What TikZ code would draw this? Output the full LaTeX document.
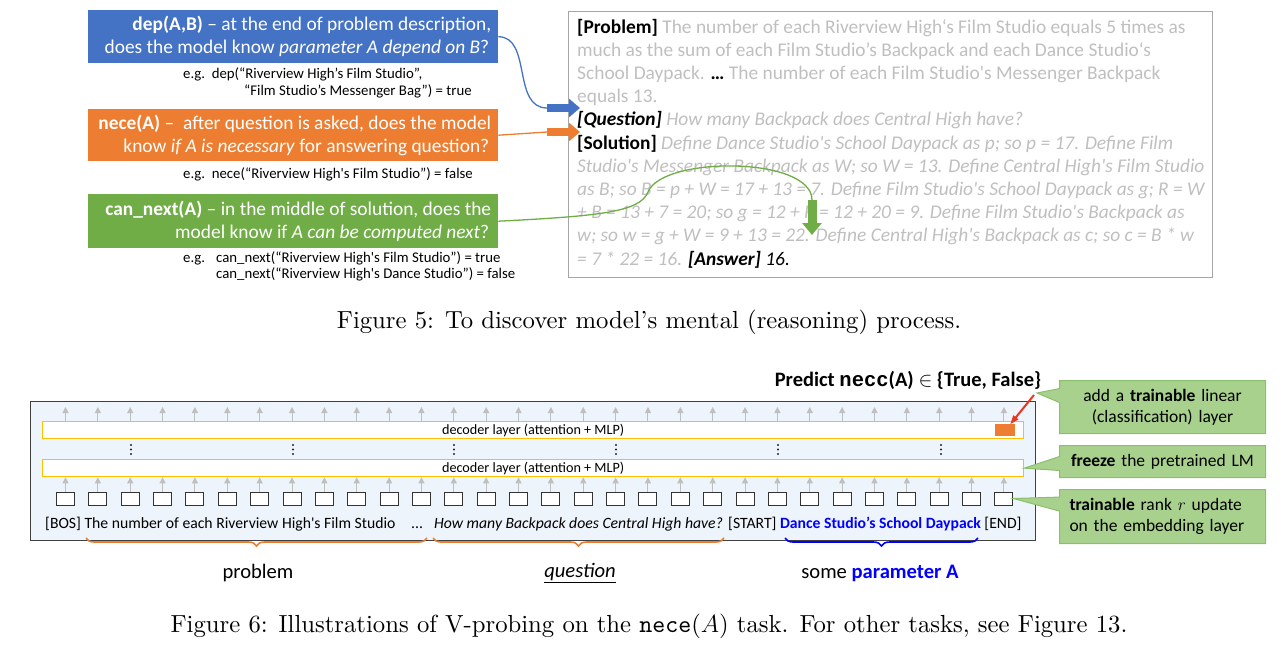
\documentclass[tikz,border=0pt]{standalone}
\usepackage{fontspec}
\usetikzlibrary{arrows.meta,shapes.callouts,decorations.pathreplacing,calc}
\newfontfamily\calib{Carlito}
\newfontfamily\capfont{lmroman10-regular.otf}[ItalicFont=lmroman10-italic.otf,BoldFont=lmroman10-bold.otf]
\newfontfamily\capmono{lmmono10-regular.otf}
\newfontfamily\lmono{Liberation Mono}
\definecolor{bluebox}{HTML}{4472C4}
\definecolor{orangebox}{HTML}{ED7D31}
\definecolor{greenbox}{HTML}{70AD47}
\definecolor{txtgray}{HTML}{BFBFBF}
\definecolor{boxgray}{HTML}{A6A6A6}
\definecolor{panelfill}{HTML}{EEF4FB}
\definecolor{panelborder}{HTML}{404040}
\definecolor{decgold}{HTML}{FFC000}
\definecolor{arrgray}{HTML}{BFBFBF}
\definecolor{pblue}{HTML}{0000FF}
\definecolor{calfill}{HTML}{A9D18E}
\definecolor{caldraw}{HTML}{8CBF6C}
\definecolor{redarr}{HTML}{E8371F}
\tikzset{
 tbox/.style={rectangle, text=white, font=\calib\fontsize{19.4}{23}\selectfont, text width=396pt, inner xsep=7pt, inner ysep=0pt, minimum height=53pt, align=flush right, anchor=north west},
 eg/.style={font=\calib\fontsize{14.8}{17}\selectfont, inner sep=0pt, anchor=base west},
 pline/.style={font=\calib\fontsize{19.4}{23}\selectfont, inner sep=0pt, anchor=base west, text=txtgray},
 blockarrow/.style={line width=8pt, -{Triangle[length=11pt,width=18pt]}},
 decl/.style={draw=decgold, fill=white, line width=1.3pt, minimum width=981pt, minimum height=17pt, inner sep=0pt, anchor=north west, font=\calib\fontsize{14.2}{16}\selectfont},
 tok/.style={draw=black!80, fill=white, line width=1pt, minimum width=18pt, minimum height=13pt, inner sep=0pt},
 garrow/.style={draw=arrgray, line width=1pt, -{Triangle[length=6pt,width=6pt]}},
 ttext/.style={font=\calib\fontsize{15.7}{18}\selectfont, inner sep=0pt, anchor=base west},
 brc/.style={decorate, decoration={brace, mirror, amplitude=8pt}, line width=1.6pt},
 lbl/.style={font=\calib\fontsize{20.6}{24}\selectfont},
 callbox/.style={rectangle callout, fill=calfill, draw=caldraw, line width=1pt, font=\calib\fontsize{17.5}{21}\selectfont, minimum width=206pt, text width=186pt, inner xsep=10pt, inner ysep=2pt, anchor=north west, callout pointer width=14pt},
 capt/.style={font=\capfont\fontsize{24.7}{29}\selectfont, inner sep=0pt},
}
\begin{document}
\begin{tikzpicture}[x=1pt,y=-1pt]
\useasboundingbox (0,0) rectangle (1286,648);
% ---------- Figure 5 ----------
\node[tbox, fill=bluebox] (dep) at (88,10) {\textbf{dep(A,B)} – at the end of problem description,\hspace{2pt}\\ does the model know \textit{parameter A depend on B}?\hspace*{2pt}};
\node[eg] (egdepa) at (183,78) {e.g.\ \ dep(“Riverview High’s Film Studio”,};
\node[eg] (egdepb) at (244,95) {“Film Studio’s Messenger Bag”) = true};
\node[tbox, fill=orangebox, minimum height=52pt] (nece) at (88,109) {\textbf{nece(A)} –\ \ after question is asked, does the model\\ know \textit{if A is necessary} for answering question?\hspace*{2pt}};
\node[eg] (egnece) at (183,178) {e.g.\ \ nece(“Riverview High's Film Studio”) = false};
\node[tbox, fill=greenbox, minimum height=54pt] (cnext) at (88,194) {\textbf{can\_next(A)} – in the middle of solution, does the\\ model know if \textit{A can be computed next}?\hspace*{2pt}};
\node[eg] (egcn) at (183,262) {e.g.};
\node[eg] (egcna) at (216,262) {can\_next(“Riverview High's Film Studio”) = true};
\node[eg] (egcnb) at (216,278) {can\_next(“Riverview High's Dance Studio”) = false};

\node[draw=boxgray, line width=1.2pt, minimum width=644pt, minimum height=266pt, inner sep=0pt, anchor=north west] (prob) at (568,11) {};
\node[pline] (p1) at (577,33) {{\color{black}\textbf{[Problem]}} The number of each Riverview High‘s Film Studio equals 5 times as};
\node[pline] (p2) at (577,56.2) {much as the sum of each Film Studio’s Backpack and each Dance Studio‘s};
\node[pline] (p3) at (577,79.4) {School Daypack. {\color{black}\textbf{…}} The number of each Film Studio's Messenger Backpack};
\node[pline] (p4) at (577,102.6) {equals 13.};
\node[pline] (p5) at (577,125.8) {{\color{black}\textbf{\textit{[Question]}}} \textit{How many Backpack does Central High have?}};
\node[pline] (p6) at (577,149) {{\color{black}\textbf{[Solution]}} \textit{Define Dance Studio's School Daypack as p; so p = 17. Define Film}};
\node[pline] (p7) at (577,172.2) {\textit{Studio's Messenger Backpack as W; so W = 13. Define Central High's Film Studio}};
\node[pline] (p8) at (577,195.4) {\textit{as B; so B = p + W = 17 + 13 = 7. Define Film Studio's School Daypack as g; R = W}};
\node[pline] (p9) at (577,218.6) {\textit{+ B = 13 + 7 = 20; so g = 12 + R = 12 + 20 = 9. Define Film Studio's Backpack as}};
\node[pline] (p10) at (577,241.8) {\textit{w; so w = g + W = 9 + 13 = 22. Define Central High's Backpack as c; so c = B * w}};
\node[pline] (p11) at (577,265) {\textit{= 7 * 22 = 16.} {\color{black}\textbf{\textit{[Answer]}} \textit{16.}}};

\coordinate (bA) at (547,108);
\coordinate (bB) at (580,108);
\coordinate (oA) at (547,132);
\coordinate (oB) at (580,132);
\coordinate (gA) at (812,200);
\coordinate (gB) at (812,235);
\draw[bluebox, line width=1.3pt] (dep.east) .. controls (532,37) and (512,108) .. (bA);
\draw[bluebox, blockarrow] (bA) -- (bB);
\draw[orangebox, line width=1.3pt] (nece.east) -- (oA);
\draw[orangebox, blockarrow] (oA) -- (oB);
\draw[greenbox, line width=1.3pt] (cnext.east) .. controls (600,216) and (640,212) .. (648,192) .. controls (662,156) and (812,156) .. (gA);
\draw[greenbox, line width=9pt, -{Triangle[length=12pt,width=19pt]}] (gA) -- (gB);

\node[capt] (cap5) at (649,322) {Figure 5: To discover model’s mental (reasoning) process.};

% ---------- Figure 6 ----------
\node[draw=panelborder, fill=panelfill, line width=1pt, minimum width=1005pt, minimum height=139pt, inner sep=0pt, anchor=north west] (panel) at (30,401) {};
\node[decl] (dec1) at (42,421) {decoder layer (attention + MLP)};
\node[decl] (dec2) at (42,459) {decoder layer (attention + MLP)};
\foreach \i in {0,...,29} {
  \node[tok] (t\i) at (65.5+32.36*\i,498.5) {};
  \draw[garrow] (t\i.north) -- (t\i.north |- dec2.south);
  \draw[garrow] (t\i.north |- dec1.north) -- ++(0,-14);
}
\foreach \x in {131,293,454,616,778,941} {
  \foreach \y in {445,449.5,454} { \fill[black!85] (\x,\y) circle[radius=1.1pt]; }
}
\node[fill=orangebox, minimum width=20pt, minimum height=12pt, inner sep=0pt] (cls) at (1005,429.5) {};

\node[ttext] (tk1) at (45,528) {[BOS] The number of each Riverview High's Film Studio};
\node[ttext] (tk2) at (411,528) {...};
\node[ttext] (tk3) at (434,528) {\textit{How many Backpack does Central High have?}};
\node[ttext] (tk4) at (728,528) {[START] {\color{pblue}\textbf{Dance Studio’s School Daypack}} [END]};

\draw[brc, orangebox] (86,538) -- (427,538);
\draw[brc, orangebox] (433,538) -- (724,538);
\draw[brc, pblue] (785,538) -- (978,538);

\node[lbl] (lprob) at (258,573) {problem};
\node[lbl] (lques) at (580,573) {\underline{\textit{question}}};
\node[lbl] (lpar) at (880,573) {some \textcolor{pblue}{\textbf{parameter A}}};

\node[font=\calib\fontsize{20.5}{24}\selectfont\bfseries, inner sep=0pt] (pred) at (908,380) {Predict {\lmono\bfseries necc}(A) $\in$ \{True, False\}};
\coordinate (rA) at (1034,395);
\draw[redarr, line width=2pt, -{Triangle[length=9pt,width=6pt]}] (rA) -- ($(cls.north east)+(-5,1)$);

\node[callbox, align=center, minimum height=53pt, callout absolute pointer={(1037,393)}] (c1) at (1059,380) {add a \textbf{trainable} linear\\(classification) layer};
\node[callbox, align=center, minimum height=32pt, callout absolute pointer={(dec2.east)}] (c2) at (1059,445) {\textbf{freeze} the pretrained LM};
\node[callbox, align=left, minimum height=54pt, callout absolute pointer={(t29.east)}] (c3) at (1059,489) {\textbf{trainable} rank $r$ update\\on the embedding layer};

\node[capt] (cap6) at (649,626) {Figure 6: Illustrations of V-probing on the {\capmono nece}($A$) task. For other tasks, see Figure 13.};
\end{tikzpicture}
\end{document}
